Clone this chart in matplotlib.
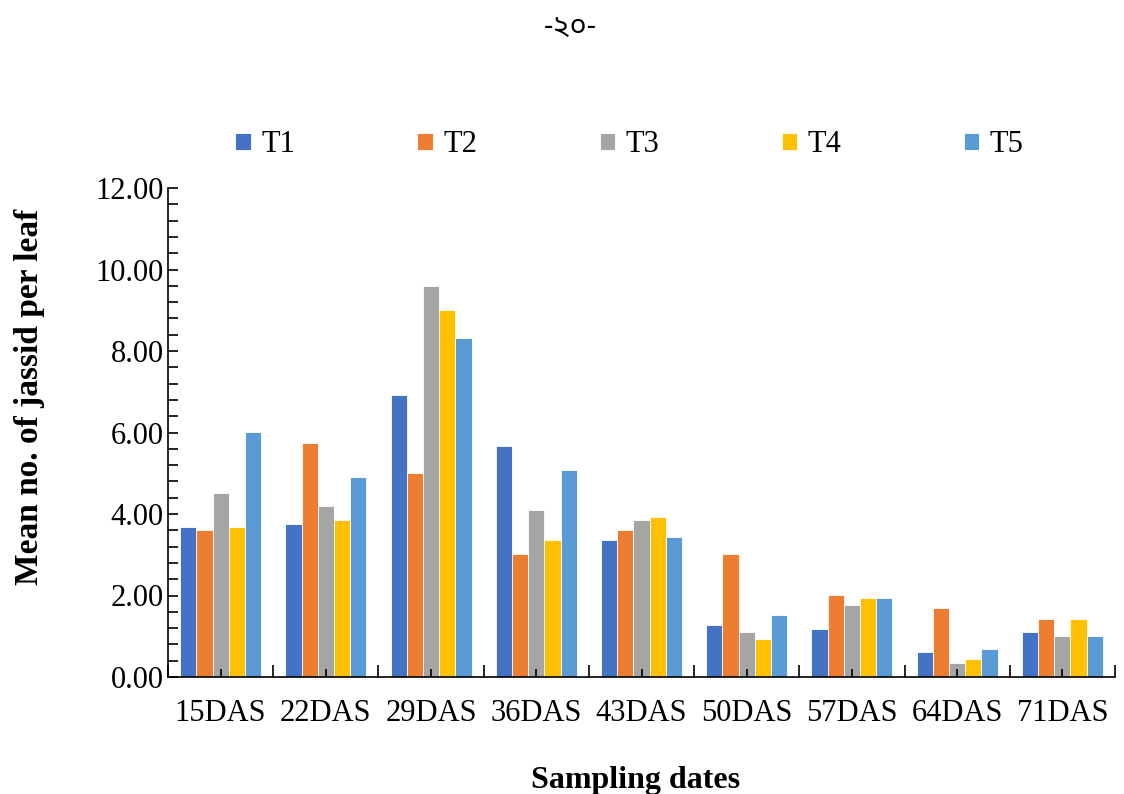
import matplotlib
matplotlib.use("Agg")
import matplotlib.pyplot as plt
import numpy as np

categories = ["15DAS", "22DAS", "29DAS", "36DAS", "43DAS", "50DAS", "57DAS", "64DAS", "71DAS"]
series_names = ["T1", "T2", "T3", "T4", "T5"]
T1 = [3.68, 3.76, 6.92, 5.67, 3.35, 1.27, 1.19, 0.61, 1.10]
T2 = [3.60, 5.75, 5.00, 3.02, 3.60, 3.02, 2.01, 1.69, 1.43]
T3 = [4.52, 4.19, 9.60, 4.10, 3.85, 1.10, 1.77, 0.35, 1.01]
T4 = [3.68, 3.85, 9.00, 3.35, 3.93, 0.93, 1.93, 0.43, 1.43]
T5 = [6.01, 4.92, 8.33, 5.08, 3.43, 1.51, 1.93, 0.69, 1.01]
y_ticks = [0, 2, 4, 6, 8, 10, 12]
header_text = "-২০-"

colors = ["#4472C4", "#ED7D31", "#A5A5A5", "#FFC000", "#5B9BD5"]
serif = ["Liberation Serif", "DejaVu Serif"]

fig = plt.figure(figsize=(11.24, 7.94), dpi=100)
ax = fig.add_axes([168/1124, 1-677/794, (1115-168)/1124, (677-188)/794])

data = [T1, T2, T3, T4, T5]
x = np.arange(len(categories))
bw = 0.77 / 5
for i, (vals, name) in enumerate(zip(data, series_names)):
    ax.bar(x - 0.385 + bw*(i+0.5), vals, bw, color=colors[i], label=name,
           edgecolor="white", linewidth=0.6)

ax.set_xlim(-0.5, len(categories)-0.5)
ax.set_ylim(0, 12)
ax.set_yticks(y_ticks)
ax.set_yticklabels([f"{v:.2f}" for v in y_ticks], fontfamily=serif, fontsize=22)
ax.set_yticks(np.arange(0, 12.01, 0.4), minor=True)
ax.tick_params(axis="y", which="both", direction="in", length=7, width=1.2, pad=3)
ax.set_xticks(np.arange(-0.5, len(categories), 1.0))
ax.set_xticklabels([])
ax.set_xticks(x, minor=True)
ax.set_xticklabels(categories, minor=True, fontfamily=serif, fontsize=22)
ax.tick_params(axis="x", which="major", direction="in", length=9, width=1.2)
ax.tick_params(axis="x", which="minor", direction="in", length=6, width=1.2, pad=16)
for s in ["top", "right"]:
    ax.spines[s].set_visible(False)
ax.spines["left"].set_linewidth(1.2)
ax.spines["bottom"].set_linewidth(1.2)

ax.set_ylabel("Mean no. of jassid per leaf", fontfamily=serif, fontsize=24,
              fontweight="bold")
ax.yaxis.set_label_coords(-0.13, 0.573)
ax.set_xlabel("Sampling dates", fontfamily=serif, fontsize=23,
              fontweight="bold")
ax.xaxis.set_label_coords(0.494, -0.182)

leg = fig.legend(loc="center", bbox_to_anchor=(0.56, 1-145/794), ncol=5,
                 frameon=False, prop={"family": serif, "size": 22},
                 handlelength=0.5, handleheight=0.5, handletextpad=0.35,
                 columnspacing=4.0)

fig.text(570/1124, 1-28/794, header_text, ha="center", va="center", fontsize=21,
         family=["Noto Sans Bengali", "DejaVu Sans"])

fig.savefig("out.png", dpi=100)
